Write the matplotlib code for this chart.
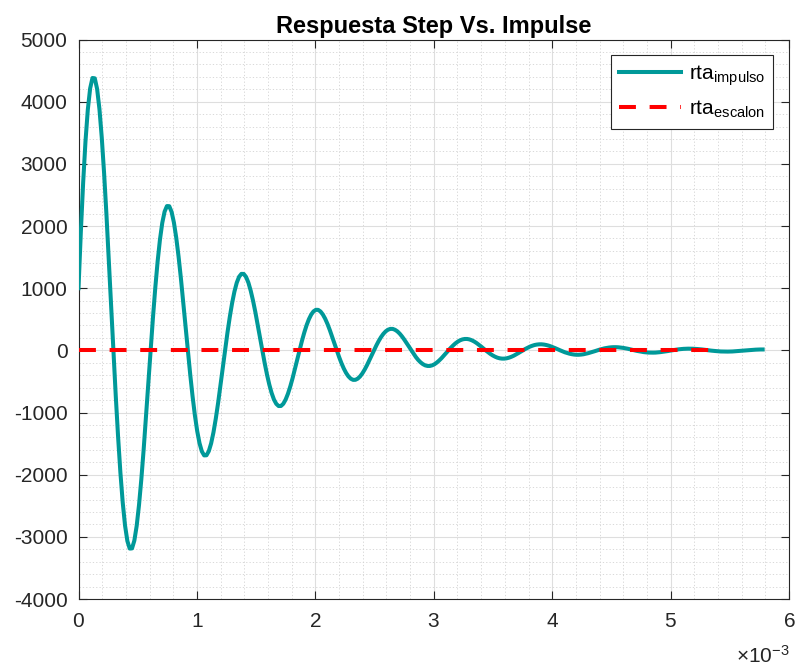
import numpy as np
import matplotlib
matplotlib.use('Agg')
import matplotlib.pyplot as plt
from matplotlib.ticker import MultipleLocator, ScalarFormatter

plt.rcParams['font.family'] = ['Liberation Sans', 'DejaVu Sans']
plt.rcParams['mathtext.fontset'] = 'custom'
plt.rcParams['mathtext.rm'] = 'Liberation Sans'
plt.rcParams['axes.unicode_minus'] = False

# impulse response, one sample every dt_impulso seconds
dt_impulso = 0.01965e-3
rta_impulso = [
    999, 1903, 2700, 3362, 3872, 4213, 4381, 4376, 4204, 3880, 3420, 2848, 2190, 1474, 730, -14,
    -727, -1385, -1965, -2447, -2818, -3067, -3189, -3186, -3060, -2824, -2489, -2073, -1594, -1073, -531, 10,
    529, 1008, 1430, 1781, 2051, 2232, 2321, 2319, 2228, 2056, 1812, 1509, 1160, 781, 387, -7,
    -385, -734, -1041, -1297, -1493, -1625, -1690, -1688, -1621, -1496, -1319, -1098, -844, -568, -281, 5,
    281, 534, 758, 944, 1087, 1183, 1230, 1229, 1181, 1090, 960, 800, 615, 414, 205, -4,
    -204, -389, -552, -687, -792, -861, -896, -895, -860, -793, -699, -582, -448, -301, -149, 3,
    149, 283, 402, 500, 576, 627, 652, 651, 625, 577, 509, 424, 326, 219, 109, -2,
    -108, -206, -292, -364, -419, -456, -475, -474, -455, -420, -370, -308, -237, -160, -79, 1,
    79, 150, 213, 265, 305, 332, 345, 345, 331, 306, 270, 225, 173, 116, 58, -1,
    -57, -109, -155, -193, -222, -242, -251, -251, -241, -223, -196, -163, -126, -85, -42, 1,
    42, 79, 113, 140, 162, 176, 183, 183, 176, 162, 143, 119, 91, 62, 30, -1,
    -30, -58, -82, -102, -118, -128, -133, -133, -128, -118, -104, -87, -67, -45, -22, 0,
    22, 42, 60, 74, 86, 93, 97, 97, 93, 86, 76, 63, 48, 33, 16, 0,
    -16, -31, -43, -54, -62, -68, -71, -71, -68, -63, -55, -46, -35, -24, -12, 0,
    12, 22, 32, 39, 45, 49, 51, 51, 49, 45, 40, 33, 26, 17, 9, 0,
    -9, -16, -23, -29, -33, -36, -37, -37, -36, -33, -29, -24, -19, -13, -6, 0,
    6, 12, 17, 21, 24, 26, 27, 27, 26, 24, 21, 18, 14, 9, 5, 0,
    -5, -9, -12, -15, -18, -19, -20, -20, -19, -18, -15, -13, -10, -7, -3, 0,
    3, 6, 9, 11, 13, 14, 14,
]
t_impulso = np.arange(len(rta_impulso)) * dt_impulso

# step response (flat at zero on this scale)
t_escalon = [0, 5.39e-3]
rta_escalon = [0, 0]

x_lim = (0, 6e-3)
y_lim = (-4000, 5000)
y_ticks = np.arange(-4000, 5001, 1000)

fig = plt.figure(figsize=(7.97, 6.71), dpi=100)
ax = fig.add_axes([0.0985, 0.1073, 0.8915, 0.8338])

ax.plot(t_impulso, rta_impulso, color='#009999', linewidth=2.9,
        solid_joinstyle='round', label=r'rta$_{\mathregular{impulso}}$', zorder=3)
ax.plot(t_escalon, rta_escalon, color='#ff0000', linewidth=2.9,
        linestyle=(0, (4.2, 3.4)), label=r'rta$_{\mathregular{escalon}}$', zorder=4)

ax.set_xlim(*x_lim)
ax.set_ylim(*y_lim)
ax.set_yticks(y_ticks)
ax.xaxis.set_major_locator(MultipleLocator(1e-3))
ax.xaxis.set_minor_locator(MultipleLocator(0.2e-3))
ax.yaxis.set_minor_locator(MultipleLocator(200))
fmt = ScalarFormatter(useMathText=True)
fmt.set_powerlimits((-2, 2))
ax.xaxis.set_major_formatter(fmt)
ax.xaxis.get_offset_text().set_visible(False)
ax.text(1.0014, -0.1144, r'$\times\mathregular{10^{-3}}$', transform=ax.transAxes,
        ha='right', va='baseline', fontsize=15, color='#262626')

ax.set_axisbelow(True)
ax.grid(which='major', color='#dedede', linewidth=0.8)
ax.grid(which='minor', color='#d2d2d2', linestyle=(0, (1.5, 2.5)), linewidth=0.6)

ax.tick_params(which='major', direction='in', length=6, width=0.8,
               top=True, right=True, colors='#262626', labelsize=15)
ax.tick_params(axis='x', pad=9)
ax.tick_params(axis='y', pad=8)
ax.tick_params(which='minor', length=0)
for s in ax.spines.values():
    s.set_color('#262626')
    s.set_linewidth(0.8)

ax.set_title('Respuesta Step Vs. Impulse', fontsize=17, fontweight='bold', pad=4.5)

leg = ax.legend(loc='upper right', fontsize=15, handlelength=3.0, handletextpad=0.35,
                borderaxespad=0.75, fancybox=False, framealpha=1,
                edgecolor='#262626')
leg.get_frame().set_linewidth(0.8)

fig.savefig('out.png', dpi=100)
